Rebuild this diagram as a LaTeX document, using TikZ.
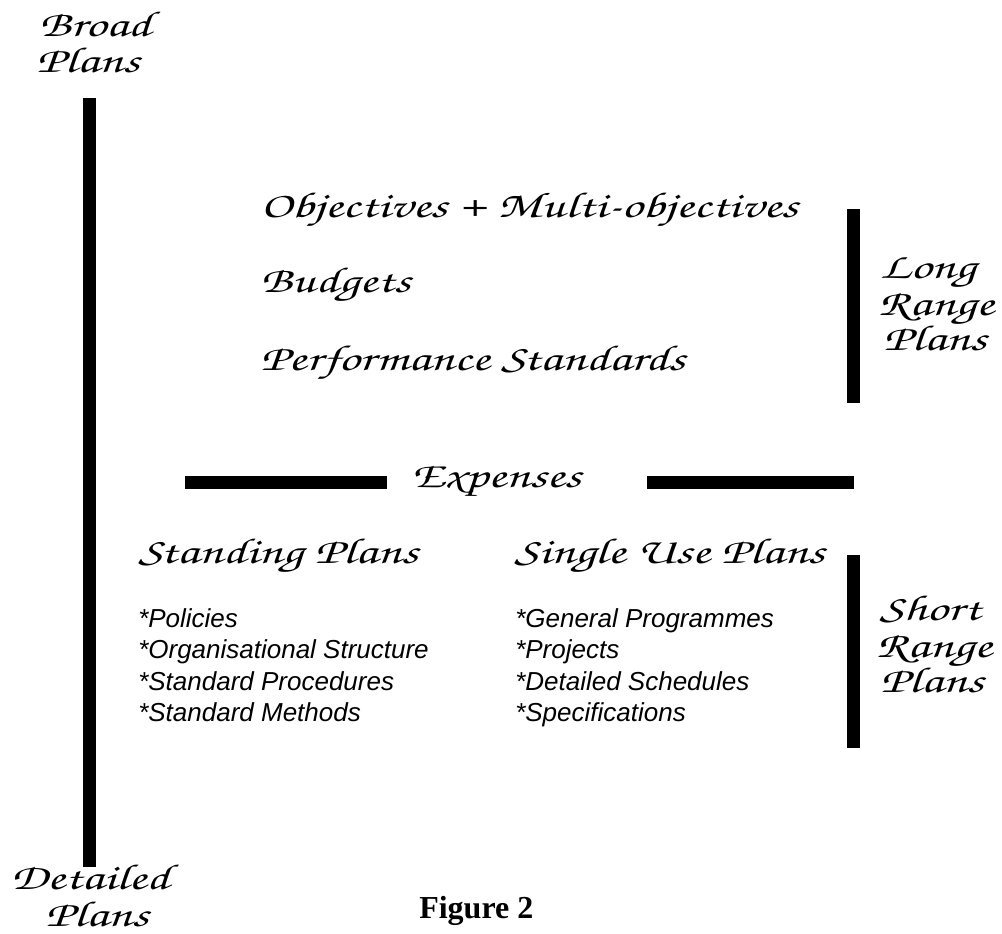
\documentclass[tikz,border=0pt]{standalone}
\usepackage{fontspec}
\setmainfont{Liberation Serif}
\IfFontExistsTF{TeX Gyre Chorus}
  {\newfontfamily\handfont[FakeStretch=1.45]{TeX Gyre Chorus}}
  {\newfontfamily\handfont{Liberation Serif Italic}}
\newfontfamily\itemfont{Liberation Sans Italic}
\begin{document}
\begin{tikzpicture}[x=0.75pt,y=-0.75pt,
  hand/.style={font=\handfont\fontsize{27}{30}\selectfont, inner sep=0pt},
  itemtxt/.style={font=\itemfont\fontsize{19.5}{23.5}\selectfont, inner sep=0pt, anchor=base west},
  bar/.style={fill=black}]
\useasboundingbox (0,0) rectangle (1002,933);
% bars
\fill[bar] (83,98) rectangle (96,867);
\fill[bar] (847,209) rectangle (860,403);
\fill[bar] (847,555) rectangle (860,748);
\fill[bar] (185,476) rectangle (387,489);
\fill[bar] (647,476) rectangle (854,489);
% axis labels
\node[hand, anchor=base] (broad) at (95,36) {Broad};
\node[hand, anchor=base] (broadp) at (88,72) {Plans};
\node[hand, anchor=base] (detailed) at (90,889) {Detailed};
\node[hand, anchor=base] (detailedp) at (97,926) {Plans};
% long range
\node[hand, anchor=base west] (obj) at (260,217) {Objectives + Multi-objectives};
\node[hand, anchor=base west] (bud) at (260,292) {Budgets};
\node[hand, anchor=base west] (perf) at (260,370) {Performance Standards};
\node[hand, anchor=base] (long1) at (928,278) {Long};
\node[hand, anchor=base] (long2) at (936,315) {Range};
\node[hand, anchor=base] (long3) at (935,350) {Plans};
% expenses
\node[hand, anchor=base] (exp) at (496,487) {Expenses};
% short range
\node[hand, anchor=base west] (stand) at (138,563) {Standing Plans};
\node[hand, anchor=base west] (single) at (514,563) {Single Use Plans};
\node[hand, anchor=base] (short1) at (930,620) {Short};
\node[hand, anchor=base] (short2) at (934,657) {Range};
\node[hand, anchor=base] (short3) at (932,692) {Plans};
% items
\node[itemtxt] (s1) at (138,627) {*Policies};
\node[itemtxt] (s2) at (138,658) {*Organisational Structure};
\node[itemtxt] (s3) at (138,690) {*Standard Procedures};
\node[itemtxt] (s4) at (138,721) {*Standard Methods};
\node[itemtxt] (u1) at (515,627) {*General Programmes};
\node[itemtxt] (u2) at (515,658) {*Projects};
\node[itemtxt] (u3) at (515,690) {*Detailed Schedules};
\node[itemtxt] (u4) at (515,721) {*Specifications};
% caption
\node[font=\bfseries\fontsize{24}{28}\selectfont, inner sep=0pt, anchor=base west] (fig) at (419,918) {Figure 2};
\end{tikzpicture}
\end{document}
